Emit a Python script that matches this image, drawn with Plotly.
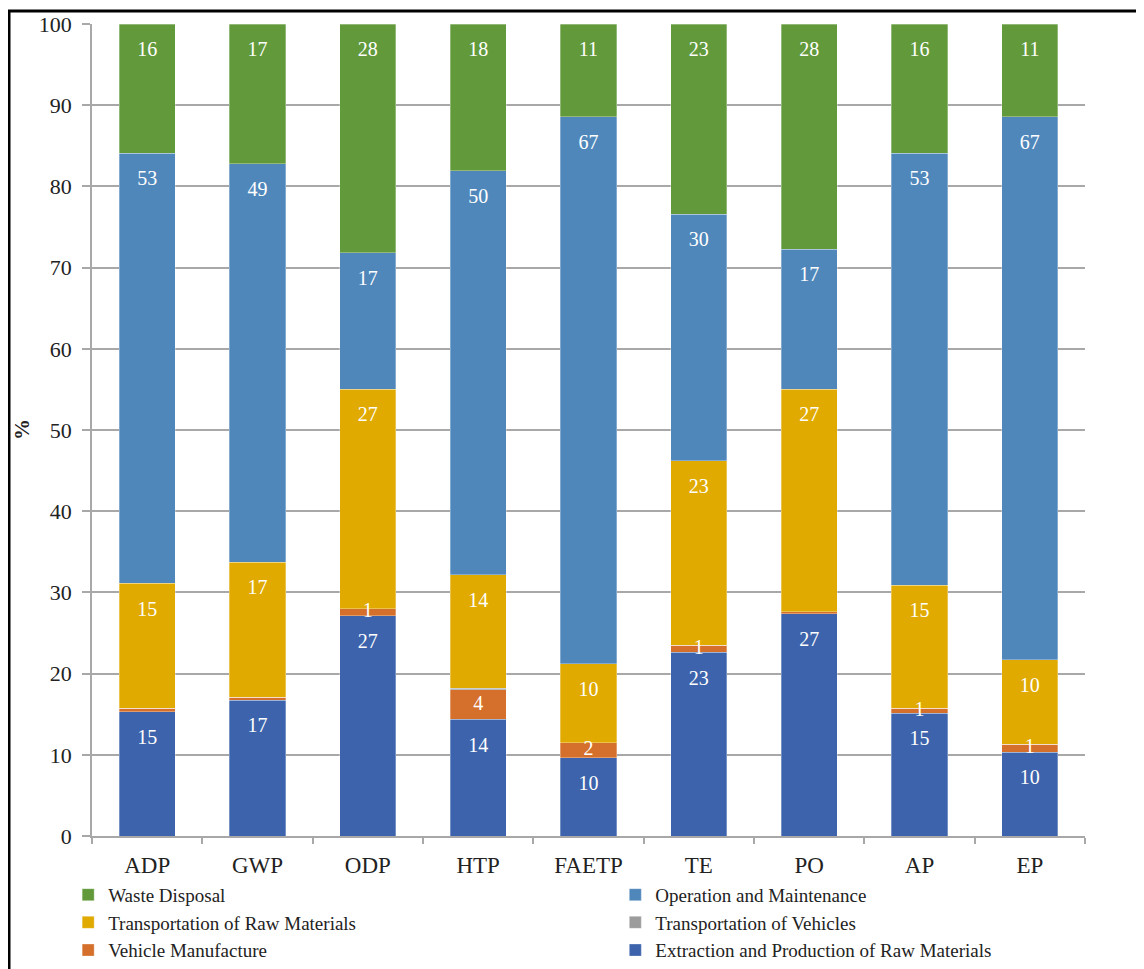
import plotly.graph_objects as go

categories = ["ADP", "GWP", "ODP", "HTP", "FAETP", "TE", "PO", "AP", "EP"]
extraction = [15.3, 16.7, 27.1, 14.35, 9.65, 22.6, 27.4, 15.1, 10.3]
vehicle_manufacture = [0.45, 0.4, 0.9, 3.65, 1.85, 0.9, 0.2, 0.65, 1.0]
transport_vehicles = [0, 0, 0, 0.2, 0, 0, 0, 0, 0]
transport_raw = [15.35, 16.6, 27.0, 14.0, 9.7, 22.7, 27.4, 15.15, 10.4]
operation_maintenance = [53.0, 49.1, 16.8, 49.7, 67.35, 30.35, 17.25, 53.2, 66.85]
waste_disposal = [15.9, 17.2, 28.2, 18.1, 11.45, 23.45, 27.75, 15.9, 11.45]

# (name, values, colour, legend column)
series = [
    ("Extraction and Production of Raw Materials", extraction, "#3C63AB", "legend2"),
    ("Vehicle Manufacture", vehicle_manufacture, "#D4702B", "legend"),
    ("Transportation of Vehicles", transport_vehicles, "#9C9C9C", "legend2"),
    ("Transportation of Raw Materials", transport_raw, "#E0AA00", "legend"),
    ("Operation and Maintenance", operation_maintenance, "#4F87BB", "legend2"),
    ("Waste Disposal", waste_disposal, "#629A3B", "legend"),
]

FONT = "Liberation Serif, Times New Roman, serif"
TXT = "#222"
fig = go.Figure()

for name, vals, col, lg in series:
    fig.add_trace(go.Bar(
        name=name, x=categories, y=vals, legend=lg,
        marker=dict(color=col, line=dict(width=0.6, color="rgba(255,255,255,0.5)")),
        hoverinfo="x+y+name",
    ))

# data labels (inside end, white)
offset = 3.33
base = [0.0] * len(categories)
for name, vals, col, lg in series:
    ys, txt = [], []
    for i, v in enumerate(vals):
        bottom = base[i]
        top = bottom + v
        ys.append(max((top + bottom) / 2, top - offset))
        r = round(v)
        txt.append(f"{r:.0f}" if r >= 1 else "")
        base[i] = top
    fig.add_trace(go.Scatter(
        x=categories, y=ys, text=txt, mode="text",
        textfont=dict(family=FONT, size=20, color="white"),
        showlegend=False, hoverinfo="skip", cliponaxis=False,
    ))

legend_common = dict(
    orientation="v", traceorder="reversed", yanchor="top", xanchor="left",
    itemwidth=30, font=dict(family=FONT, size=19, color=TXT),
    bgcolor="rgba(0,0,0,0)", borderwidth=0,
)

fig.update_layout(
    barmode="stack",
    bargap=0.49,
    width=1136, height=961, autosize=False,
    margin=dict(l=84, r=59, t=16, b=133, autoexpand=False),
    paper_bgcolor="white", plot_bgcolor="white",
    font=dict(family=FONT, size=20, color=TXT),
    legend=dict(x=-0.024, y=-0.049, **legend_common),
    legend2=dict(x=0.527, y=-0.049, **legend_common),
    showlegend=True,
)

fig.update_yaxes(
    range=[0, 100], dtick=10, tickmode="linear",
    showgrid=True, gridcolor="#A8A8A8", gridwidth=1.5,
    showline=True, linecolor="#A8A8A8", linewidth=1.5,
    ticks="outside", ticklen=8, tickcolor="#A8A8A8", tickwidth=1.5,
    tickfont=dict(family=FONT, size=22, color=TXT),
    ticklabelstandoff=6, zeroline=False,
)
fig.update_xaxes(
    showline=True, linecolor="#A8A8A8", linewidth=1.5,
    ticks="outside", tickson="boundaries", ticklen=6, tickcolor="#A8A8A8", tickwidth=1.5,
    tickfont=dict(family=FONT, size=23, color=TXT),
    ticklabelstandoff=8, showgrid=False,
)

fig.add_annotation(
    text="<b>%</b>", textangle=-90, xref="paper", yref="paper",
    x=(14 - 84) / 993, y=0.5, xanchor="center", yanchor="middle", showarrow=False,
    font=dict(family=FONT, size=21, color=TXT),
)

# outer black frame (extends beyond the canvas on right and bottom)
fig.add_shape(
    type="rect", xref="paper", yref="paper",
    x0=(1 - 84) / 993, x1=1.3, y0=-0.5, y1=(828 - 3) / 812,
    line=dict(color="black", width=3), fillcolor="rgba(0,0,0,0)", layer="above",
)

fig.write_html("out.html")
